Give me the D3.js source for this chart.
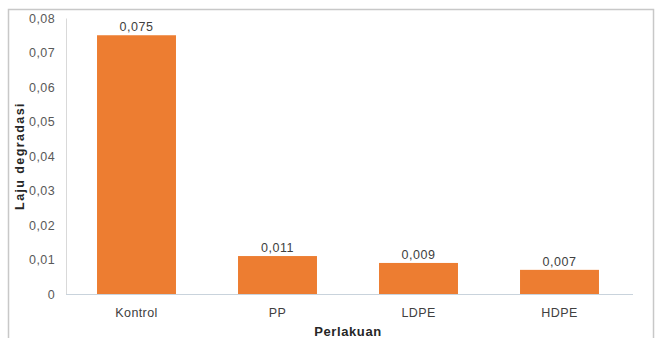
<!DOCTYPE html>
<html>
<head>
<meta charset="utf-8">
<script src="https://cdn.jsdelivr.net/npm/d3@7"></script>
<style>
  html, body { margin: 0; padding: 0; background: #fff; }
  svg { display: block; font-family: "Liberation Sans", Arial, sans-serif; }
</style>
</head>
<body>
<svg id="chart" width="656" height="338"></svg>
<script>
// Degradation rate per treatment
const categories = ["Kontrol", "PP", "LDPE", "HDPE"];
const values = [0.075, 0.011, 0.009, 0.007];
const valueLabels = ["0,075", "0,011", "0,009", "0,007"];
const yTicks = [0, 0.01, 0.02, 0.03, 0.04, 0.05, 0.06, 0.07, 0.08];
const yTickLabels = ["0", "0,01", "0,02", "0,03", "0,04", "0,05", "0,06", "0,07", "0,08"];

const svg = d3.select("#chart");
const W = 656, H = 338;
const m = { left: 66, right: 26, top: 18, bottom: 44 };
const fs = 12.5;

// chart frame
svg.append("rect")
  .attr("x", 8.5).attr("y", 9.5)
  .attr("width", 645).attr("height", 340)
  .attr("fill", "#fff")
  .attr("stroke", "#c8c8c8").attr("stroke-width", 1.5);

const x = d3.scaleBand()
  .domain(categories)
  .range([m.left, W - m.right])
  .paddingInner(0.44)
  .paddingOuter(0.22);

const y = d3.scaleLinear()
  .domain([0, 0.08])
  .range([H - m.bottom, m.top]);

// y axis
const yAxis = svg.append("g")
  .attr("transform", `translate(${m.left},0)`)
  .call(d3.axisLeft(y).tickValues(yTicks)
    .tickFormat((d, i) => yTickLabels[i]).tickSize(0).tickPadding(11));
yAxis.select(".domain").attr("stroke", "#d9d9d9");
yAxis.selectAll("text").attr("fill", "#595959").attr("font-size", fs)
  .attr("letter-spacing", 0.4);

// bars
svg.append("g").selectAll("rect")
  .data(values)
  .join("rect")
  .attr("x", (d, i) => x(categories[i]))
  .attr("y", d => y(d))
  .attr("width", x.bandwidth())
  .attr("height", d => y(0) - y(d))
  .attr("fill", "#ED7D31");

// x axis
const xAxis = svg.append("g")
  .attr("transform", `translate(0,${y(0)})`)
  .call(d3.axisBottom(x).tickSize(0).tickPadding(14));
xAxis.select(".domain").attr("stroke", "#c9d3dc").attr("d", `M${m.left},0.5H${W - m.right + 3}`);
xAxis.selectAll("text").attr("fill", "#404040").attr("font-size", fs)
  .attr("letter-spacing", 0.4);

// value labels
svg.append("g").selectAll("text")
  .data(values)
  .join("text")
  .attr("x", (d, i) => x(categories[i]) + x.bandwidth() / 2)
  .attr("y", d => y(d) - 4)
  .attr("text-anchor", "middle")
  .attr("fill", "#404040")
  .attr("font-size", fs)
  .attr("letter-spacing", 0.5)
  .text((d, i) => valueLabels[i]);

// axis titles
svg.append("text")
  .attr("transform", `translate(24,${(y(0) + y(0.08)) / 2}) rotate(-90)`)
  .attr("text-anchor", "middle")
  .attr("font-size", 12.5).attr("font-weight", "bold")
  .attr("letter-spacing", 1.4)
  .attr("fill", "#262626")
  .text("Laju degradasi");

svg.append("text")
  .attr("x", (m.left + W - m.right) / 2)
  .attr("y", 335.5)
  .attr("text-anchor", "middle")
  .attr("font-size", 13).attr("font-weight", "bold")
  .attr("letter-spacing", 0.6)
  .attr("fill", "#262626")
  .text("Perlakuan");
</script>
</body>
</html>
